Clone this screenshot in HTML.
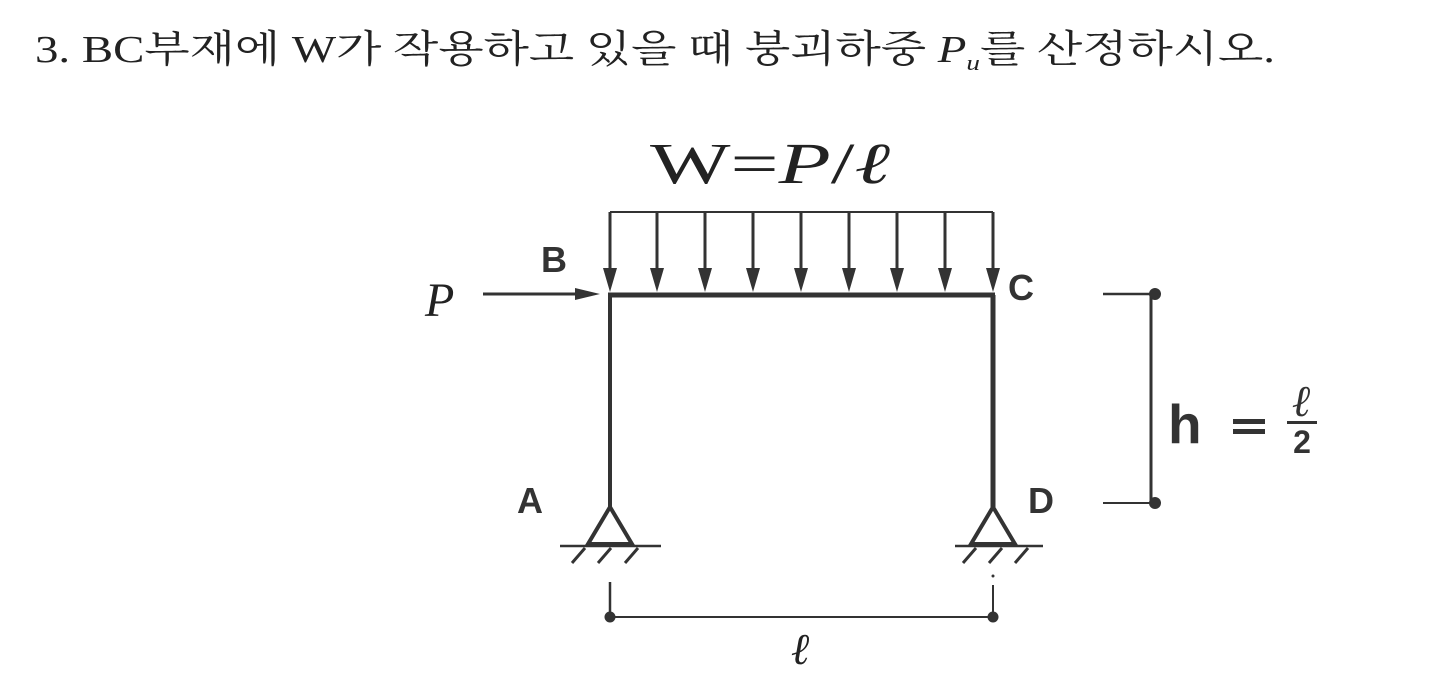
<!DOCTYPE html>
<html><head><meta charset="utf-8"><style>
html,body{margin:0;padding:0;background:#fff;}
body{width:1454px;height:694px;overflow:hidden;position:relative;}
</style></head><body>
<svg width="1454" height="694" viewBox="0 0 1454 694" xmlns="http://www.w3.org/2000/svg">
<text x="35" y="62" font-family="Liberation Serif, 'Noto Serif CJK SC', serif" font-size="38" fill="#222" textLength="1240" lengthAdjust="spacingAndGlyphs">3. BC부재에 W가 작용하고 있을 때 붕괴하중 <tspan font-style="italic">P</tspan><tspan font-style="italic" font-size="22" dy="8">u</tspan><tspan dy="-8">를 산정하시오.</tspan></text>

<text x="650" y="183" font-family="Liberation Serif, serif" font-size="58" fill="#222" textLength="240" lengthAdjust="spacingAndGlyphs">W<tspan font-size="58">=</tspan><tspan font-style="italic">P</tspan>/<tspan font-style="italic">ℓ</tspan></text>

<g stroke="#333" fill="none">
<line x1="610" y1="212" x2="993" y2="212" stroke-width="2"/>
<g stroke-width="3">
<line x1="610" y1="212" x2="610" y2="280"/><line x1="657" y1="212" x2="657" y2="280"/>
<line x1="705" y1="212" x2="705" y2="280"/><line x1="753" y1="212" x2="753" y2="280"/>
<line x1="801" y1="212" x2="801" y2="280"/><line x1="849" y1="212" x2="849" y2="280"/>
<line x1="897" y1="212" x2="897" y2="280"/><line x1="945" y1="212" x2="945" y2="280"/>
<line x1="993" y1="212" x2="993" y2="280"/>
</g>
<line x1="608" y1="295" x2="995" y2="295" stroke-width="5"/>
<line x1="610" y1="295" x2="610" y2="507" stroke-width="4"/>
<line x1="993" y1="295" x2="993" y2="507" stroke-width="5"/>
<line x1="483" y1="294" x2="585" y2="294" stroke-width="3"/>
<path d="M610 507 L588 544 L632 544 Z" stroke-width="4"/>
<path d="M993 507 L971 544 L1015 544 Z" stroke-width="4"/>
<line x1="560" y1="546" x2="661" y2="546" stroke-width="2.5"/>
<line x1="955" y1="546" x2="1043" y2="546" stroke-width="2.5"/>
<g stroke-width="3">
<line x1="585" y1="548" x2="572" y2="563"/><line x1="611" y1="548" x2="598" y2="563"/><line x1="638" y1="548" x2="625" y2="563"/>
<line x1="976" y1="548" x2="963" y2="563"/><line x1="1002" y1="548" x2="989" y2="563"/><line x1="1028" y1="548" x2="1015" y2="563"/>
</g>
<line x1="610" y1="582" x2="610" y2="622" stroke-width="2.5"/>
<line x1="993" y1="585" x2="993" y2="622" stroke-width="2"/>
<line x1="610" y1="617" x2="993" y2="617" stroke-width="2"/>
<line x1="1103" y1="294" x2="1155" y2="294" stroke-width="2.5"/>
<line x1="1103" y1="503" x2="1155" y2="503" stroke-width="2"/>
<line x1="1151" y1="294" x2="1151" y2="503" stroke-width="3"/>
</g>
<g fill="#333">
<path d="M603 268 L617 268 L610 292 Z"/><path d="M650 268 L664 268 L657 292 Z"/>
<path d="M698 268 L712 268 L705 292 Z"/><path d="M746 268 L760 268 L753 292 Z"/>
<path d="M794 268 L808 268 L801 292 Z"/><path d="M842 268 L856 268 L849 292 Z"/>
<path d="M890 268 L904 268 L897 292 Z"/><path d="M938 268 L952 268 L945 292 Z"/>
<path d="M986 268 L1000 268 L993 292 Z"/>
<path d="M575 288 L575 300 L600 294 Z"/>
<circle cx="610" cy="617" r="5.5"/><circle cx="993" cy="617" r="5.5"/>
<circle cx="1155" cy="294" r="6"/><circle cx="1155" cy="503" r="6"/>
<circle cx="993" cy="576" r="1.5"/>
</g>
<text x="800" y="664" font-family="Liberation Serif, serif" font-style="italic" font-size="44" fill="#222" text-anchor="middle">ℓ</text>
<text x="425" y="316" font-family="Liberation Serif, serif" font-style="italic" font-size="48" fill="#222">P</text>
<g font-family="Liberation Sans, sans-serif" font-weight="bold" fill="#333">
<text x="541" y="272" font-size="36">B</text>
<text x="1008" y="300" font-size="36">C</text>
<text x="517" y="513" font-size="36">A</text>
<text x="1028" y="513" font-size="36">D</text>
<text x="1168" y="443" font-size="55">h</text>
<rect x="1233" y="419" width="32" height="5"/>
<rect x="1233" y="429" width="32" height="5"/>
<text x="1302" y="453" font-size="32" text-anchor="middle">2</text>
</g>
<rect x="1287" y="421" width="30" height="3" fill="#333"/>
<text x="1302" y="416" font-family="Liberation Serif, serif" font-style="italic" font-weight="bold" font-size="44" fill="#333" text-anchor="middle">ℓ</text>
</svg>
</body></html>
